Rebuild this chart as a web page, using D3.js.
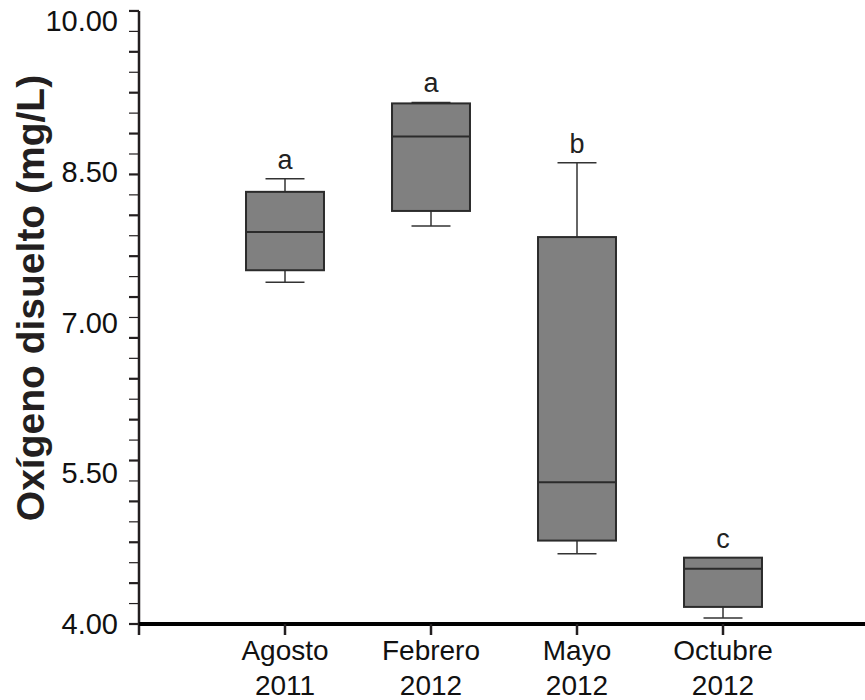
<!DOCTYPE html>
<meta charset="utf-8">
<head>
  <script src="https://cdn.jsdelivr.net/npm/d3@7"></script>
</head>

<style>
body {
  margin: 0;
  background: #fff;
}
svg {
  font-family: "Liberation Sans", Arial, sans-serif;
}
</style>
<body>
  <div id="chart"></div>

<script>
// muestreos
var months = ["Agosto", "Febrero", "Mayo", "Octubre"];
var years = ["2011", "2012", "2012", "2012"];
var letters = ["a", "a", "b", "c"];

// box values (mg/L)
var whiskerLow = [7.40, 7.96, 4.70, 4.06];
var q1 = [7.52, 8.11, 4.83, 4.17];
var median = [7.90, 8.85, 5.41, 4.55];
var q3 = [8.30, 9.18, 7.85, 4.66];
var whiskerHigh = [8.43, 9.19, 8.59, 4.66];

var yLabels = [4.00, 5.50, 7.00, 8.50, 10.00];
var yTop = 10.1;
var nTicks = 30;

var width = 865;
var height = 700;

var svg = d3.select("#chart").append("svg")
  .attr("width", width)
  .attr("height", height);

var x = d3.scaleLinear()
  .domain([0, 5])
  .range([139, 869]);

var y = d3.scaleLinear()
  .domain([4, 10])
  .range([624, 21]);

var boxW = x(0.534) - x(0);
var capW = boxW / 2;

// y axis ticks (alternating thick / thin)
var tickVals = d3.range(0, nTicks + 1).map(function(i) { return 4 + i * (yTop - 4) / nTicks; });

svg.append("line")
  .attr("x1", x(0)).attr("x2", x(0))
  .attr("y1", y(yTop)).attr("y2", y(4) + 11)
  .attr("stroke", "#231f20")
  .attr("stroke-width", 2.5);

svg.selectAll(".ytick")
  .data(tickVals)
  .enter()
  .append("line")
    .attr("class", "ytick")
    .attr("x1", x(0) - 10)
    .attr("x2", x(0))
    .attr("y1", function(d) { return y(d); })
    .attr("y2", function(d) { return y(d); })
    .attr("stroke", "#231f20")
    .attr("stroke-width", function(d, i) { return i % 2 == 0 ? 2.2 : 1.2; });

svg.selectAll(".ylabel")
  .data(yLabels)
  .enter()
  .append("text")
    .attr("class", "ylabel")
    .attr("x", x(0) - 21)
    .attr("y", function(d) { return y(d); })
    .attr("dy", "0.35em")
    .attr("text-anchor", "end")
    .attr("font-size", "29px")
    .attr("fill", "#111")
    .text(function(d) { return d.toFixed(2); });

svg.append("text")
  .attr("transform", "translate(44," + 298 + ") rotate(-90)")
  .attr("text-anchor", "middle")
  .attr("font-size", "39px")
  .attr("font-weight", "bold")
  .attr("fill", "#231f20")
  .text("Oxígeno disuelto (mg/L)");

// x axis
svg.append("line")
  .attr("x1", x(0)).attr("x2", width)
  .attr("y1", y(4)).attr("y2", y(4))
  .attr("stroke", "#000")
  .attr("stroke-width", 4);

svg.selectAll(".xtick")
  .data(months)
  .enter()
  .append("line")
    .attr("class", "xtick")
    .attr("x1", function(d, i) { return x(i + 1); })
    .attr("x2", function(d, i) { return x(i + 1); })
    .attr("y1", y(4))
    .attr("y2", y(4) + 11)
    .attr("stroke", "#231f20")
    .attr("stroke-width", 2.5);

var xl = svg.selectAll(".xlabel")
  .data(months)
  .enter()
  .append("text")
    .attr("class", "xlabel")
    .attr("text-anchor", "middle")
    .attr("font-size", "28px")
    .attr("fill", "#111");
xl.append("tspan")
  .attr("x", function(d, i) { return x(i + 1); })
  .attr("y", 660)
  .text(function(d) { return d; });
xl.append("tspan")
  .attr("x", function(d, i) { return x(i + 1); })
  .attr("y", 695)
  .text(function(d, i) { return years[i]; });

// boxes
var g = svg.selectAll(".box")
  .data(months)
  .enter()
  .append("g")
    .attr("class", "box");

g.append("line")
  .attr("x1", function(d, i) { return x(i + 1); })
  .attr("x2", function(d, i) { return x(i + 1); })
  .attr("y1", function(d, i) { return y(whiskerLow[i]); })
  .attr("y2", function(d, i) { return y(whiskerHigh[i]); })
  .attr("stroke", "#333")
  .attr("stroke-width", 1.5);

g.append("line")
  .attr("x1", function(d, i) { return x(i + 1) - capW / 2; })
  .attr("x2", function(d, i) { return x(i + 1) + capW / 2; })
  .attr("y1", function(d, i) { return y(whiskerLow[i]); })
  .attr("y2", function(d, i) { return y(whiskerLow[i]); })
  .attr("stroke", "#333")
  .attr("stroke-width", 1.5);

g.append("line")
  .attr("x1", function(d, i) { return x(i + 1) - capW / 2; })
  .attr("x2", function(d, i) { return x(i + 1) + capW / 2; })
  .attr("y1", function(d, i) { return y(whiskerHigh[i]); })
  .attr("y2", function(d, i) { return y(whiskerHigh[i]); })
  .attr("stroke", "#333")
  .attr("stroke-width", 1.5);

g.append("rect")
  .attr("x", function(d, i) { return x(i + 1) - boxW / 2; })
  .attr("y", function(d, i) { return y(q3[i]); })
  .attr("width", boxW)
  .attr("height", function(d, i) { return y(q1[i]) - y(q3[i]); })
  .attr("fill", "#808080")
  .attr("stroke", "#2b2b2b")
  .attr("stroke-width", 2);

g.append("line")
  .attr("x1", function(d, i) { return x(i + 1) - boxW / 2; })
  .attr("x2", function(d, i) { return x(i + 1) + boxW / 2; })
  .attr("y1", function(d, i) { return y(median[i]); })
  .attr("y2", function(d, i) { return y(median[i]); })
  .attr("stroke", "#2b2b2b")
  .attr("stroke-width", 2);

g.append("text")
  .attr("x", function(d, i) { return x(i + 1); })
  .attr("y", function(d, i) { return y(whiskerHigh[i]) - 10; })
  .attr("text-anchor", "middle")
  .attr("font-size", "27px")
  .attr("fill", "#222")
  .text(function(d, i) { return letters[i]; });

</script>
</body>
